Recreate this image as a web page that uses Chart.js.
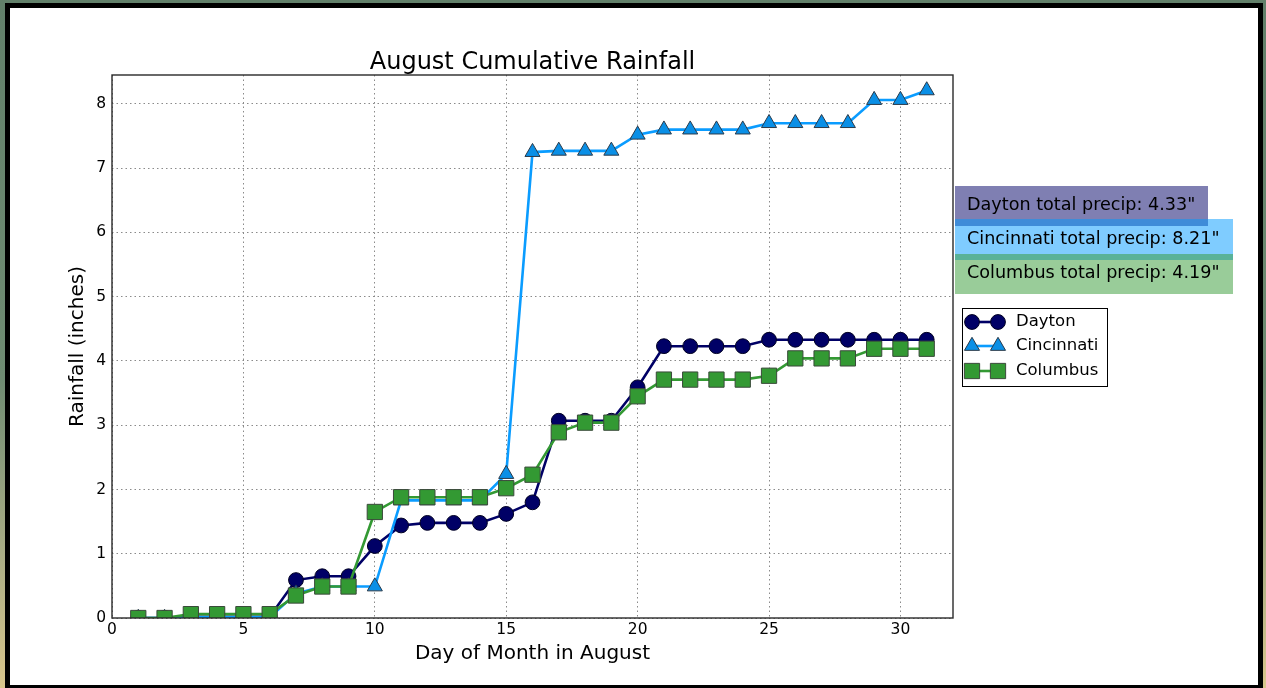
<!DOCTYPE html>
<html>
<head>
<meta charset="utf-8">
<script src="https://cdn.jsdelivr.net/npm/chart.js@4.4.1/dist/chart.umd.min.js"></script>
<style>
html,body{margin:0;padding:0;width:1266px;height:688px;overflow:hidden;
  background:linear-gradient(to bottom,#62806a 0%,#6f8c72 55%,#a9ad85 80%,#d9c68c 100%);}
#frame{position:absolute;left:5px;top:3px;width:1248px;height:677px;border:5px solid #000;background:#fff;}
#c{position:absolute;left:0;top:0;}
</style>
</head>
<body>
<div id="frame"></div>
<canvas id="c" width="1266" height="688"></canvas>
<script>
// ---- data ----
const days = [1,2,3,4,5,6,7,8,9,10,11,12,13,14,15,16,17,18,19,20,21,22,23,24,25,26,27,28,29,30,31];
const dayton     = [0,0,0.02,0.02,0.02,0.02,0.59,0.65,0.65,1.12,1.44,1.48,1.48,1.48,1.62,1.80,3.07,3.07,3.07,3.59,4.23,4.23,4.23,4.23,4.33,4.33,4.33,4.33,4.33,4.33,4.33];
const cincinnati = [0,0,0.01,0.01,0.01,0.01,0.38,0.49,0.49,0.49,1.83,1.83,1.83,1.83,2.24,7.25,7.27,7.27,7.27,7.52,7.60,7.60,7.60,7.60,7.70,7.70,7.70,7.70,8.06,8.06,8.21];
const columbus   = [0,0,0.06,0.06,0.06,0.06,0.35,0.49,0.49,1.65,1.88,1.88,1.88,1.88,2.02,2.23,2.89,3.04,3.04,3.45,3.71,3.71,3.71,3.71,3.77,4.04,4.04,4.04,4.19,4.19,4.19];
const seriesNames = ['Dayton','Cincinnati','Columbus'];
const xTicks = [0,5,10,15,20,25,30];
const yTicks = [0,1,2,3,4,5,6,7,8];
const chartTitle = 'August Cumulative Rainfall';
const xTitle = 'Day of Month in August';
const yTitle = 'Rainfall (inches)';

// ---- styles ----
const FONT = '"DejaVu Sans", Verdana, sans-serif';
const styles = [
  {color:'#000066', fill:'#000066', edge:'#000022', pointStyle:'circle',   radius:7.4, rgba:'rgba(0,0,102,0.5)'},
  {color:'#0a9cff', fill:'#0a8fe6', edge:'#2a3a4a', pointStyle:'triangle', radius:8.7, rgba:'rgba(0,153,255,0.5)'},
  {color:'#339933', fill:'#339933', edge:'#3a4a3a', pointStyle:'rect',     radius:10.8, rgba:'rgba(51,153,51,0.5)'}
];
const allSeries = [dayton, cincinnati, columbus];

const datasets = allSeries.map((vals, i) => ({
  label: seriesNames[i],
  data: vals.map((v, k) => ({x: days[k], y: v})),
  borderColor: styles[i].color,
  backgroundColor: styles[i].fill,
  borderWidth: 2.6,
  pointStyle: styles[i].pointStyle,
  pointRadius: styles[i].radius,
  pointBackgroundColor: styles[i].fill,
  pointBorderColor: styles[i].edge,
  pointBorderWidth: 1,
  tension: 0,
  fill: false,
  clip: 0,
  order: 3 - i
}));

const overlay = {
  id: 'overlay',
  afterDatasetsDraw(chart) {
    const {ctx, chartArea: a} = chart;
    ctx.save();
    ctx.strokeStyle = '#2a2a2a';
    ctx.lineWidth = 1.4;
    ctx.strokeRect(a.left, a.top, a.right - a.left, a.bottom - a.top);
    ctx.restore();
  },
  afterDraw(chart) {
    const {ctx, chartArea: a} = chart;
    ctx.save();
    // title
    ctx.fillStyle = '#000';
    ctx.font = '24px ' + FONT;
    ctx.textAlign = 'center';
    ctx.textBaseline = 'alphabetic';
    ctx.fillText(chartTitle, (a.left + a.right) / 2, 69);

    // total boxes
    const boxes = [
      {x: 955, y: 186, w: 253, h: 40},
      {x: 955, y: 219, w: 278, h: 41},
      {x: 955, y: 254, w: 278, h: 40}
    ];
    allSeries.forEach((vals, i) => {
      const b = boxes[i];
      ctx.fillStyle = styles[i].rgba;
      ctx.fillRect(b.x, b.y, b.w, b.h);
    });
    ctx.font = '17.6px ' + FONT;
    ctx.textAlign = 'left';
    ctx.textBaseline = 'middle';
    ctx.fillStyle = '#000';
    allSeries.forEach((vals, i) => {
      const b = boxes[i];
      const total = vals[vals.length - 1].toFixed(2);
      ctx.fillText(seriesNames[i] + ' total precip: ' + total + '"', 967, b.y + b.h / 2 - 0.5);
    });

    // legend
    const lx = 962, ly = 308, lw = 145, lh = 78;
    ctx.fillStyle = '#fff';
    ctx.fillRect(lx, ly, lw, lh);
    ctx.strokeStyle = '#000';
    ctx.lineWidth = 1;
    ctx.strokeRect(lx + 0.5, ly + 0.5, lw, lh);
    const rows = [322, 346, 371];
    ctx.font = '16.5px ' + FONT;
    ctx.textBaseline = 'middle';
    seriesNames.forEach((name, i) => {
      const y = rows[i];
      const s = styles[i];
      ctx.strokeStyle = s.color;
      ctx.lineWidth = 2.6;
      ctx.beginPath();
      ctx.moveTo(972, y);
      ctx.lineTo(998, y);
      ctx.stroke();
      [972, 998].forEach(px => {
        ctx.fillStyle = s.fill;
        ctx.strokeStyle = s.edge;
        ctx.lineWidth = 1;
        Chart.helpers.drawPoint(ctx, {pointStyle: s.pointStyle, radius: s.radius, rotation: 0, borderWidth: 1}, px, y);
      });
      ctx.fillStyle = '#000';
      ctx.fillText(name, 1016, y);
    });
    ctx.restore();
  }
};

new Chart(document.getElementById('c'), {
  type: 'line',
  data: {datasets},
  options: {
    responsive: false,
    animation: false,
    devicePixelRatio: 1,
    events: [],
    layout: {padding: {top: 75, right: 313, left: 0, bottom: 0}},
    plugins: {legend: {display: false}, tooltip: {enabled: false}, title: {display: false}},
    scales: {
      x: {
        type: 'linear', min: 0, max: 32,
        afterBuildTicks: ax => { ax.ticks = xTicks.map(v => ({value: v})); },
        afterFit: s => { s.height = 70; },
        grid: {color: '#8a8a8a', lineWidth: 1, drawTicks: false},
        border: {display: false, dash: [1.5, 3]},
        ticks: {padding: 3, color: '#000', autoSkip: false, maxRotation: 0, font: {family: FONT, size: 15.5}},
        title: {display: true, text: xTitle, color: '#000', font: {family: FONT, size: 20}, padding: {top: 0, bottom: 22}}
      },
      y: {
        type: 'linear', min: 0, max: 8.45,
        afterBuildTicks: ax => { ax.ticks = yTicks.map(v => ({value: v})); },
        afterFit: s => { s.width = 112; },
        grid: {color: '#8a8a8a', lineWidth: 1, drawTicks: false},
        border: {display: false, dash: [1.5, 3]},
        ticks: {padding: 6, color: '#000', autoSkip: false, font: {family: FONT, size: 15.5}},
        title: {display: true, text: yTitle, color: '#000', font: {family: FONT, size: 20}, padding: {top: 66, bottom: 0}}
      }
    }
  },
  plugins: [overlay]
});
</script>
</body>
</html>
